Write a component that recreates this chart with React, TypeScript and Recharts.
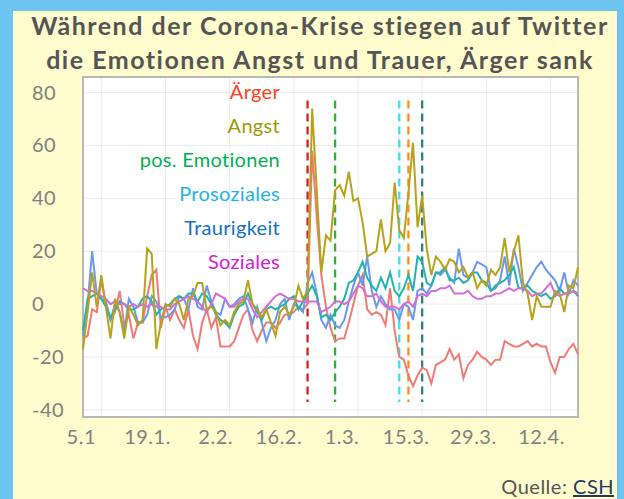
import React from 'react';
import { LineChart, Line, XAxis, YAxis, CartesianGrid, ReferenceLine, ReferenceArea } from 'recharts';

// Day index 0 = 1.1.2020
const aerger = [-13,-12,-2,-3,9,0,-6,-3,5,-8,-4,-13,-7,-7,3,11,13,-9,-1,-6,-2,-6,-9,-2,-12,-17,-7,-2,-9,-5,-16,-16,-16,-14,-9,-4,-2,-10,-14,-10,-7,-7,-9,-7,-4,-4,-3,-1,-2,0,58,33,11,-1,-9,-14,-13,-13,-7,0,7,11,-2,-4,-3,-4,-8,6,-10,-20,-21,-27,-31,-27,-24,-25,-30,-23,-22,-21,-17,-21,-19,-28,-23,-21,-18,-20,-21,-23,-21,-21,-14,-15,-16,-16,-15,-14,-16,-15,-16,-16,-22,-26,-20,-20,-17,-15,-19];
const angst = [-17,-3,12,-1,11,-1,-13,2,-3,-13,-1,-4,-8,-6,21,19,-17,-7,0,-1,2,0,-6,2,3,8,8,-2,-1,-3,-8,-6,-8,-3,0,1,9,0,-2,-5,-2,-7,-12,-3,-1,-4,-1,7,2,5,74,43,12,26,24,43,45,41,50,39,40,31,18,19,20,32,20,23,46,28,25,42,61,29,41,21,11,18,16,13,17,16,12,14,10,12,6,9,7,13,11,14,25,12,20,26,8,4,-6,3,-1,-1,-1,5,4,-3,7,6,14];
const posEmotionen = [-10,2,3,4,2,-1,-5,-2,1,0,-2,-2,-1,2,3,1,-4,-2,-1,0,2,3,2,4,4,1,4,3,0,-4,-6,-7,-9,-4,-1,0,4,0,-3,-6,-2,-1,-2,-1,0,2,3,-2,1,4,7,3,-5,-4,-6,-3,-1,2,8,9,12,16,10,7,5,10,6,12,5,3,6,11,5,18,16,8,7,12,12,14,9,9,10,8,9,12,12,9,8,5,7,8,9,11,14,6,6,7,5,4,3,4,2,3,6,4,4,5,3];
const traurigkeit = [-12,0,20,4,2,1,-6,0,-3,-11,2,-1,-7,-7,-4,3,1,-5,-5,-4,-2,3,2,-2,6,-1,-2,7,1,-3,-4,2,-1,0,2,3,-2,-7,-1,-7,-14,-9,-6,0,2,-6,0,-1,-3,8,12,4,-6,-9,-4,-8,-9,-6,1,7,12,7,18,5,-1,3,0,-2,-2,-6,0,-1,-6,5,6,4,7,12,11,13,10,8,21,11,10,12,16,15,14,5,6,9,18,7,21,14,5,8,11,14,16,13,11,9,5,12,4,9,7];
const soziales = [6,5,5,4,3,2,0,1,0,0,-1,0,-1,0,-1,0,-1,-1,-2,-2,0,1,2,3,2,1,-1,-3,0,4,3,2,-1,-1,1,2,2,-2,-5,-3,-1,1,3,4,3,2,2,1,1,1,1,1,-3,-2,-1,1,1,0,1,4,7,6,3,3,4,1,-1,-1,-1,-2,0,1,-1,3,4,3,5,5,6,6,7,4,4,4,5,3,2,2,3,3,4,4,5,6,5,6,6,5,3,4,4,6,8,4,3,4,4,5,4];

const xTickDays = [4, 18, 32, 46, 60, 74, 88, 102];
const xTickLabels = ['5.1', '19.1.', '2.2.', '16.2.', '1.3.', '15.3.', '29.3.', '12.4.'];
const yTicks = [-40, -20, 0, 20, 40, 60, 80];

const eventDays = [49, 55, 69, 71, 74];
const eventColors = ['#D9201F', '#2FB52F', '#38E2EA', '#FF8A1C', '#2A8283'];

const legendLabels = ['Ärger', 'Angst', 'pos. Emotionen', 'Prosoziales', 'Traurigkeit', 'Soziales'];
const legendColors = ['#FF4020', '#9C9A00', '#00B050', '#1FB2EE', '#1272C0', '#D020D0'];

const titleLines = ['Während der Corona-Krise stiegen auf Twitter', 'die Emotionen Angst und Trauer, Ärger sank'];

const rows = aerger.map((v, i) => ({
  day: i,
  aerger: v,
  angst: angst[i],
  pos: posEmotionen[i],
  trau: traurigkeit[i],
  soz: soziales[i],
}));

const Y_MIN = -42.7;
const Y_MAX = 85.9;
const FONT = 'Lato, "Open Sans", sans-serif';
const xLabelShift = [-20, -18, -14, -15, -16, -16, -13, -9];

const YTick = (props: any) => (
  <text x={32} y={props.y} dy={7} fontSize={20} fill="#808080" fontFamily={FONT} textAnchor="start" letterSpacing={0.5}>
    {props.payload.value}
  </text>
);

const XTick = (props: any) => {
  const i = xTickDays.indexOf(props.payload.value);
  return (
    <text x={props.x + (xLabelShift[i] || 0)} y={props.y} dy={27} fontSize={20} fill="#808080" fontFamily={FONT} textAnchor="middle" letterSpacing={0.5}>
      {xTickLabels[i]}
    </text>
  );
};

export default function App() {
  return (
    <div style={{ position: 'absolute', left: 0, top: 0, width: 624, height: 499, overflow: 'hidden', background: '#6CC4EF' }}>
      <div style={{ position: 'absolute', left: 13, top: 11, width: 604, height: 500, background: '#FFFCCE' }} />
      <div style={{ position: 'absolute', left: 0, top: 0 }}>
        <LineChart width={624} height={499} data={rows} margin={{ top: 77, right: 46, bottom: 52, left: 13 }}>
          <CartesianGrid stroke="#EBEBEB" strokeWidth={1} fill="#FFFFFF" />
          <XAxis
            dataKey="day"
            type="number"
            domain={[0, 108]}
            ticks={xTickDays}
            interval={0}
            height={30}
            tickLine={false}
            axisLine={false}
            tickSize={0}
            tickMargin={0}
            tick={<XTick />}
          />
          <YAxis
            type="number"
            domain={[Y_MIN, Y_MAX]}
            ticks={yTicks}
            allowDataOverflow
            width={70}
            tickLine={false}
            axisLine={false}
            interval={0}
            tick={<YTick />}
          />
          {eventDays.map((d, i) => (
            <ReferenceLine
              key={'ev' + i}
              segment={[{ x: d, y: 77 }, { x: d, y: -37 }]}
              stroke={eventColors[i]}
              strokeWidth={2.3}
              strokeDasharray="8 5"
            />
          ))}
          <Line dataKey="aerger" stroke="#EF7B77" strokeWidth={2} dot={false} isAnimationActive={false} />
          <Line dataKey="trau" stroke="#6A98EE" strokeWidth={2} dot={false} isAnimationActive={false} />
          <Line dataKey="pos" stroke="#22B3AC" strokeWidth={2} dot={false} isAnimationActive={false} />
          <Line dataKey="soz" stroke="#D46ED3" strokeWidth={2} dot={false} isAnimationActive={false} />
          <Line dataKey="angst" stroke="#B8A21C" strokeWidth={2} dot={false} isAnimationActive={false} />
          <ReferenceArea x1={0} x2={108} y1={Y_MIN} y2={Y_MAX} fill="none" stroke="#B8B8B8" strokeWidth={2} ifOverflow="visible" />
        </LineChart>
      </div>
      <svg width={624} height={499} style={{ position: 'absolute', left: 0, top: 0, pointerEvents: 'none' }}>
        {titleLines.map((t, i) => (
          <text key={'t' + i} x={320} y={35 + i * 33.5} textAnchor="middle" fontSize={25} fontWeight={700} fill="#555555" fontFamily={FONT} letterSpacing={1.5}>
            {t}
          </text>
        ))}
        {legendLabels.map((l, i) => (
          <text key={'l' + i} x={280} y={98.5 + i * 34} textAnchor="end" fontSize={20} fill={legendColors[i]} fontFamily={FONT} letterSpacing={0.3}>
            {l}
          </text>
        ))}
        <text x={614} y={494} textAnchor="end" fontSize={20} fontFamily={FONT} letterSpacing={0.5}>
          <tspan fill="#555555">Quelle: </tspan>
          <tspan fill="#1F3864" textDecoration="underline">CSH</tspan>
        </text>
      </svg>
    </div>
  );
}
